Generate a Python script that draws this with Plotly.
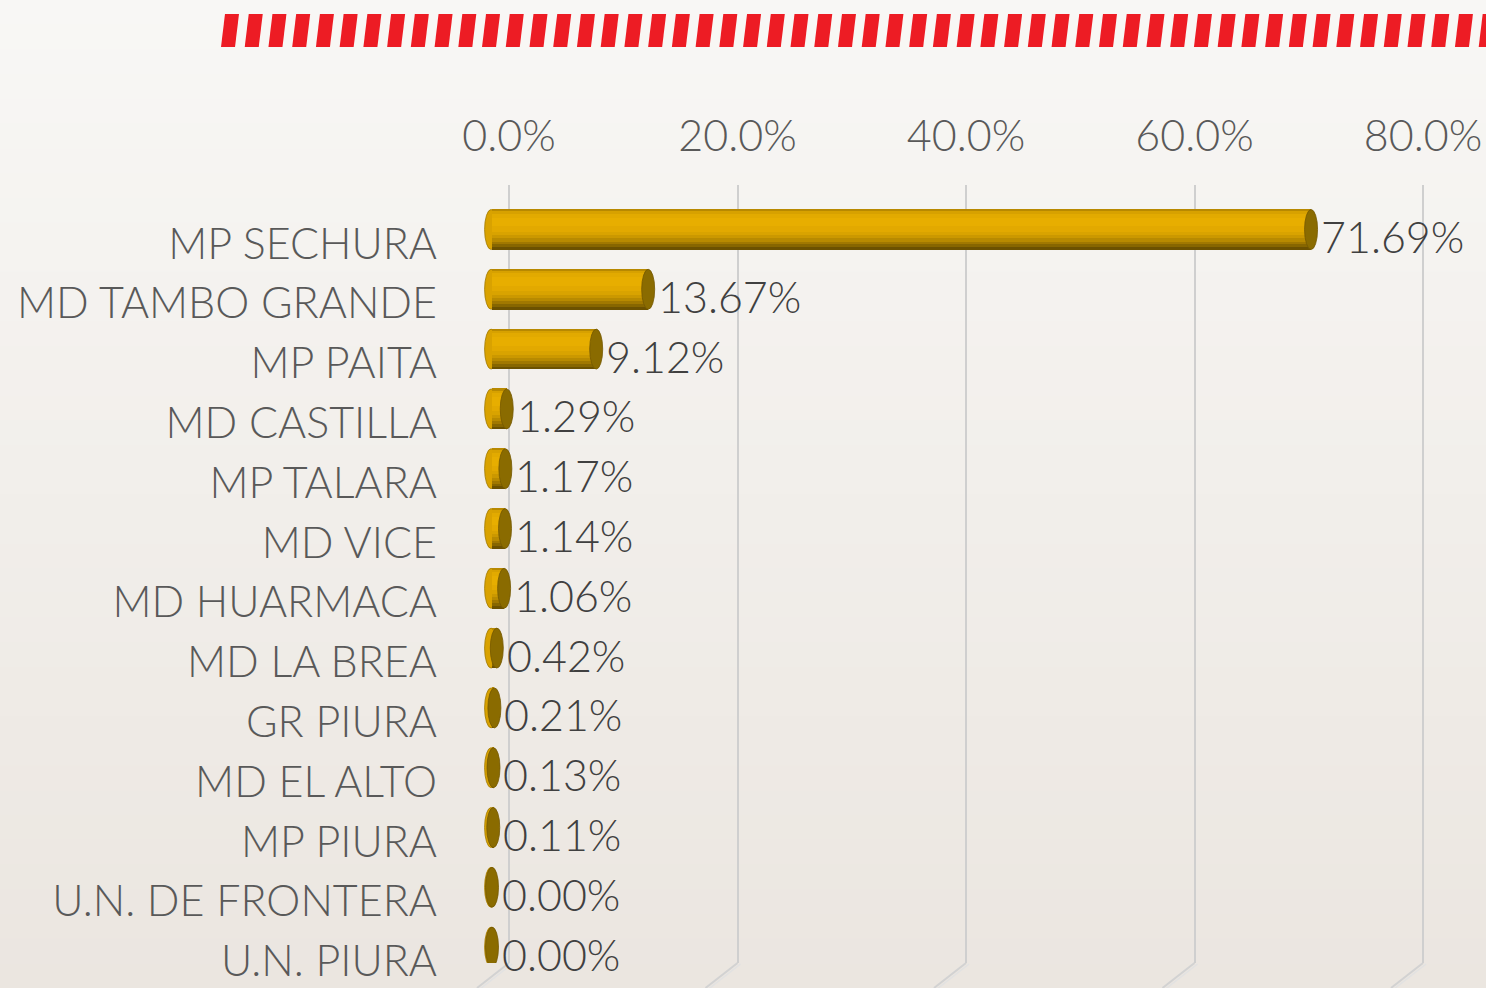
import plotly.graph_objects as go

categories = ["MP SECHURA", "MD TAMBO GRANDE", "MP PAITA", "MD CASTILLA", "MP TALARA",
              "MD VICE", "MD HUARMACA", "MD LA BREA", "GR PIURA", "MD EL ALTO",
              "MP PIURA", "U.N. DE FRONTERA", "U.N. PIURA"]
values = [71.69, 13.67, 9.12, 1.29, 1.17, 1.14, 1.06, 0.42, 0.21, 0.13, 0.11, 0.00, 0.00]
tick_vals = [0, 20, 40, 60, 80]
tick_text = ["0.0%", "20.0%", "40.0%", "60.0%", "80.0%"]

W, H = 1486, 988
ML, MR, MT, MB = 470, 0, 185, 25
PW, PH = W - ML - MR, H - MT - MB
PX_PER = 11.425          # pixels per percentage point
GRID0 = 509              # pixel of 0% gridline (back wall)
BAR0 = 492               # pixel of 0% for bars (front plane)
ROW = 59.8               # pixels per category
ROW0 = 229.5             # pixel centre of first bar
LABEL_SHIFT = 14         # category labels sit lower (floor)

x_range = [(ML - GRID0) / PX_PER, (ML + PW - GRID0) / PX_PER]
x2_range = [(ML - BAR0) / PX_PER, (ML + PW - BAR0) / PX_PER]
r0 = -(ROW0 - MT) / ROW
y_range = [r0 + PH / ROW, r0]
r0b = -(ROW0 + LABEL_SHIFT - MT) / ROW
y2_range = [r0b + PH / ROW, r0b]

idx = list(range(len(categories)))
bar_h = 40 / ROW
rx = 6.5 / PX_PER

FONT = "Lato, sans-serif"
FW = 300

fig = go.Figure()

# base body
fig.add_trace(go.Bar(
    x=values, y=idx, orientation="h", base=0, width=bar_h,
    marker=dict(color="#D9A300", line=dict(width=0)),
    xaxis="x2", yaxis="y", hoverinfo="skip", showlegend=False))

# cylinder body shading strips
strips = [(0.00, 0.04, "#B88900"), (0.04, 0.10, "#D7A100"), (0.10, 0.20, "#E2AA00"),
          (0.20, 0.42, "#E7AE00"), (0.42, 0.55, "#E2A900"), (0.55, 0.64, "#D9A300"),
          (0.64, 0.72, "#CB9800"), (0.72, 0.80, "#B88A00"), (0.80, 0.87, "#A17800"),
          (0.87, 0.94, "#876600"), (0.94, 1.00, "#6C5100")]
for a, b, c in strips:
    fig.add_trace(go.Bar(
        x=values, y=idx, orientation="h", base=0,
        width=(b - a) * bar_h + 0.004, offset=-bar_h / 2 + a * bar_h,
        marker=dict(color=c, line=dict(width=0)),
        xaxis="x2", yaxis="y", hoverinfo="skip", showlegend=False))

# invisible trace to carry the label axis
fig.add_trace(go.Scatter(x=[0] * len(idx), y=idx, xaxis="x", yaxis="y2", mode="markers",
                         marker=dict(opacity=0), hoverinfo="skip", showlegend=False))

shapes = []
# background gradient
top_c = (248, 247, 245)
bot_c = (235, 230, 224)
n = 40
for k in range(n):
    t = k / (n - 1)
    col = tuple(round(top_c[j] + (bot_c[j] - top_c[j]) * t) for j in range(3))
    py0 = H * k / n
    py1 = H * (k + 1) / n + 1
    shapes.append(dict(type="rect", xref="paper", yref="paper", layer="below",
                       x0=-ML / PW, x1=1 + MR / PW,
                       y0=(H - MB - py1) / PH, y1=(H - MB - py0) / PH,
                       fillcolor="rgb(%d,%d,%d)" % col, line=dict(width=0)))


def px2paper(px, py):
    return (px - ML) / PW, (H - MB - py) / PH


# red diagonal stripes at the top
sx = 225.0
while sx < W + 10:
    p1 = px2paper(sx, 14)
    p2 = px2paper(sx + 14, 14)
    p3 = px2paper(sx + 10, 47)
    p4 = px2paper(sx - 4, 47)
    path = "M %f %f L %f %f L %f %f L %f %f Z" % (p1[0], p1[1], p2[0], p2[1], p3[0], p3[1], p4[0], p4[1])
    shapes.append(dict(type="path", xref="paper", yref="paper", path=path, layer="above",
                       fillcolor="#ED1C24", line=dict(width=0)))
    sx += 23.73

# slanted floor lines below gridlines
for tv in tick_vals:
    gx = GRID0 + tv * PX_PER
    a = px2paper(gx, H - MB)
    b = px2paper(gx - 32, H)
    shapes.append(dict(type="line", xref="paper", yref="paper", x0=a[0], y0=a[1], x1=b[0], y1=b[1],
                       line=dict(color="#D2D2D2", width=2), layer="below"))
    a2 = px2paper(gx + 3, H - MB + 1)
    b2 = px2paper(gx - 29, H + 1)
    shapes.append(dict(type="line", xref="paper", yref="paper", x0=a2[0], y0=a2[1], x1=b2[0], y1=b2[1],
                       line=dict(color="#E2E2E2", width=1.5), layer="below"))

# left rounded ends and right caps
for i, v in zip(idx, values):
    shapes.append(dict(type="circle", xref="x2", yref="y", layer="below",
                       x0=-rx - 0.08, x1=rx - 0.08, y0=i - bar_h / 2, y1=i + bar_h / 2,
                       fillcolor="#D9A200", line=dict(color="#A07800", width=0.8)))
for i, v in zip(idx, values):
    shapes.append(dict(type="circle", xref="x2", yref="y", layer="above",
                       x0=v - rx, x1=v + rx, y0=i - bar_h / 2, y1=i + bar_h / 2,
                       fillcolor="#8A6B00", line=dict(color="#735800", width=0.8)))

annotations = []
for i, v in zip(idx, values):
    annotations.append(dict(x=v, y=i, xref="x2", yref="y", text="%.2f%%" % v,
                            showarrow=False, xanchor="left", yanchor="middle",
                            xshift=8, yshift=-7,
                            font=dict(family=FONT, size=43, color="#404040", weight=FW)))

fig.update_layout(
    width=W, height=H,
    margin=dict(l=ML, r=MR, t=MT, b=MB, pad=0),
    paper_bgcolor="#F4F2EF", plot_bgcolor="rgba(0,0,0,0)",
    barmode="overlay", bargap=0,
    showlegend=False,
    shapes=shapes, annotations=annotations,
    font=dict(family=FONT, color="#595959", weight=FW),
    xaxis=dict(range=x_range, side="top", tickvals=tick_vals, ticktext=tick_text,
               showgrid=True, gridcolor="#CFCFCF", gridwidth=2, zeroline=False,
               showline=False, ticks="", ticklabelstandoff=24,
               tickfont=dict(family=FONT, size=43, color="#595959", weight=FW),
               fixedrange=True),
    xaxis2=dict(range=x2_range, overlaying="x", visible=False, fixedrange=True),
    yaxis=dict(range=y_range, showticklabels=False, showgrid=False, zeroline=False,
               showline=False, ticks="", fixedrange=True),
    yaxis2=dict(range=y2_range, overlaying="y", side="left", tickvals=idx, ticktext=categories,
                showgrid=False, zeroline=False, showline=False, ticks="",
                ticklabelstandoff=32,
                tickfont=dict(family=FONT, size=43, color="#595959", weight=FW),
                fixedrange=True),
)

fig.write_html("out.html", config={"displayModeBar": False},
               post_script="document.body.style.margin='0';document.body.style.padding='0';")
